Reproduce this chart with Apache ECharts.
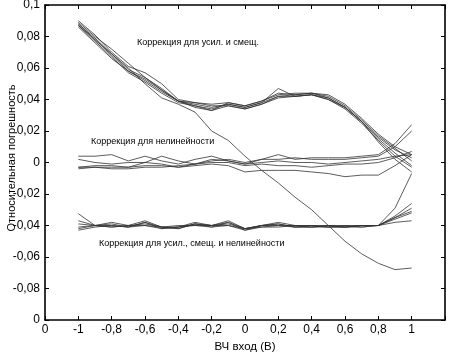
<!DOCTYPE html>
<html>
<head>
<meta charset="utf-8">
<script src="https://cdn.jsdelivr.net/npm/echarts@6/dist/echarts.min.js"></script>
<style>
  html, body { margin: 0; padding: 0; background: #fff; }
  #content { width: 449px; height: 354px; }
</style>
</head>
<body>
<div id="content"></div>
<script>
// входное напряжение, шаг 0,1 В
var xs = [-1, -0.9, -0.8, -0.7, -0.6, -0.5, -0.4, -0.3, -0.2, -0.1, 0,
          0.1, 0.2, 0.3, 0.4, 0.5, 0.6, 0.7, 0.8, 0.9, 1];

// коррекция для усиления и смещения
var gain1 = [0.090, 0.081, 0.070, 0.061, 0.057, 0.050, 0.040, 0.038, 0.037, 0.038, 0.036, 0.039, 0.044, 0.043, 0.044, 0.041, 0.035, 0.026, 0.016, 0.008, 0.003];
var gain2 = [0.089, 0.080, 0.072, 0.063, 0.054, 0.047, 0.039, 0.037, 0.035, 0.037, 0.035, 0.038, 0.042, 0.043, 0.044, 0.042, 0.036, 0.027, 0.017, 0.009, 0.001];
var gain3 = [0.088, 0.078, 0.068, 0.058, 0.052, 0.045, 0.039, 0.038, 0.036, 0.036, 0.034, 0.037, 0.041, 0.042, 0.043, 0.040, 0.034, 0.025, 0.014, 0.004, -0.003];
var gain4 = [0.087, 0.077, 0.067, 0.057, 0.051, 0.044, 0.038, 0.036, 0.034, 0.037, 0.035, 0.038, 0.047, 0.042, 0.043, 0.041, 0.035, 0.026, 0.015, 0.006, -0.002];
var gain5 = [0.086, 0.076, 0.066, 0.058, 0.053, 0.046, 0.039, 0.035, 0.033, 0.038, 0.036, 0.039, 0.043, 0.044, 0.044, 0.043, 0.037, 0.028, 0.018, 0.010, 0.005];
var gain6 = [0.087, 0.078, 0.069, 0.059, 0.054, 0.046, 0.039, 0.036, 0.033, 0.036, 0.034, 0.037, 0.042, 0.042, 0.043, 0.040, 0.035, 0.026, 0.013, 0.002, -0.006];
var gain7 = [0.088, 0.079, 0.069, 0.060, 0.050, 0.041, 0.037, 0.032, 0.020, 0.014, 0.004, -0.005, -0.013, -0.022, -0.030, -0.040, -0.050, -0.058, -0.064, -0.068, -0.067];

// коррекция для нелинейности
var lin1 = [0.004, 0.004, 0.005, 0.001, 0.004, 0.001, -0.001, 0.002, 0.004, 0.001, -0.001, 0.002, 0.005, 0.002, 0.003, 0.003, 0.003, 0.004, 0.005, 0.012, 0.024];
var lin2 = [0.002, 0.000, -0.001, 0.000, 0.000, 0.004, 0.001, -0.001, 0.001, 0.002, 0.000, 0.002, 0.002, 0.003, 0.002, 0.002, 0.002, 0.003, 0.004, 0.010, 0.020];
var lin3 = [-0.003, -0.002, -0.002, -0.003, 0.000, -0.001, -0.003, -0.001, 0.002, 0.001, -0.001, 0.000, 0.001, 0.000, 0.000, -0.001, 0.000, 0.001, 0.002, 0.004, 0.005];
var lin4 = [-0.004, -0.003, -0.004, -0.004, -0.003, -0.003, -0.002, -0.001, 0.000, 0.000, -0.002, -0.001, -0.002, -0.002, -0.003, -0.002, -0.001, -0.001, 0.000, 0.003, 0.007];
var lin5 = [-0.003, -0.003, -0.003, -0.003, -0.002, -0.002, -0.003, -0.002, -0.001, -0.002, -0.006, -0.005, -0.005, -0.005, -0.006, -0.007, -0.009, -0.008, -0.008, -0.002, 0.005];

// коррекция для усиления, смещения и нелинейности
var all1 = [-0.0325, -0.040, -0.038, -0.040, -0.037, -0.041, -0.041, -0.038, -0.040, -0.037, -0.042, -0.040, -0.038, -0.040, -0.040, -0.040, -0.041, -0.040, -0.040, -0.034, -0.026];
var all2 = [-0.037, -0.040, -0.039, -0.041, -0.038, -0.042, -0.041, -0.039, -0.041, -0.038, -0.043, -0.040, -0.039, -0.041, -0.040, -0.041, -0.041, -0.041, -0.040, -0.035, -0.029];
var all3 = [-0.041, -0.040, -0.041, -0.040, -0.039, -0.041, -0.042, -0.039, -0.040, -0.039, -0.042, -0.041, -0.040, -0.041, -0.041, -0.040, -0.040, -0.041, -0.040, -0.036, -0.032];
var all4 = [-0.043, -0.041, -0.040, -0.041, -0.040, -0.042, -0.041, -0.040, -0.041, -0.040, -0.042, -0.040, -0.040, -0.040, -0.041, -0.041, -0.040, -0.040, -0.040, -0.038, -0.037];
var all5 = [-0.042, -0.040, -0.041, -0.040, -0.040, -0.041, -0.040, -0.040, -0.040, -0.040, -0.043, -0.041, -0.041, -0.040, -0.040, -0.041, -0.041, -0.040, -0.040, -0.029, -0.007];
var all6 = [-0.039, -0.040, -0.040, -0.041, -0.038, -0.041, -0.042, -0.039, -0.040, -0.038, -0.042, -0.040, -0.039, -0.041, -0.041, -0.040, -0.041, -0.040, -0.040, -0.035, -0.031];

var curves = [gain1, gain2, gain3, gain4, gain5, gain6, gain7,
              lin1, lin2, lin3, lin4, lin5,
              all1, all2, all3, all4, all5, all6];

var font = '"Liberation Sans", Arial, sans-serif';

function comma(v) {
    var s = (+v.toFixed(2)).toString();
    return s.replace('.', ',');
}

function xLabel(v) {
    if (Math.abs(v + 1.2) < 1e-6) return '0';
    if (Math.abs(v - 1.2) < 1e-6) return '';
    return comma(v);
}

function yLabel(v) {
    if (Math.abs(v + 0.1) < 1e-6) return '0';
    return comma(v);
}

var series = curves.map(function (c) {
    return {
        type: 'line',
        xAxisIndex: 0,
        yAxisIndex: 0,
        symbol: 'none',
        silent: true,
        lineStyle: { color: '#333', width: 0.8 },
        data: xs.map(function (x, i) { return [x, c[i]]; })
    };
});

var axisBase = {
    type: 'value',
    axisLine: { show: true, onZero: false, lineStyle: { color: '#000', width: 1.6 } },
    axisTick: { show: true, inside: true, length: 4, lineStyle: { color: '#000', width: 1 } },
    splitLine: { show: false }
};

option = {
    backgroundColor: '#fff',
    animation: false,
    grid: { left: 45, right: 4, top: 5, bottom: 34, outerBoundsMode: 'none', containLabel: false },
    xAxis: [
        Object.assign({}, axisBase, {
            position: 'bottom',
            min: -1.2, max: 1.2, interval: 0.2,
            name: 'ВЧ вход (В)',
            nameLocation: 'middle',
            nameGap: 19,
            nameTextStyle: { fontFamily: font, fontSize: 11.5, color: '#000' },
            axisLabel: { formatter: xLabel, fontFamily: font, fontSize: 12, color: '#000', margin: 4 }
        }),
        Object.assign({}, axisBase, {
            position: 'top',
            min: -1.2, max: 1.2, interval: 0.2,
            axisLabel: { show: false }
        })
    ],
    yAxis: [
        Object.assign({}, axisBase, {
            position: 'left',
            min: -0.1, max: 0.1, interval: 0.02,
            axisLabel: { formatter: yLabel, fontFamily: font, fontSize: 12, color: '#000', margin: 5 }
        }),
        Object.assign({}, axisBase, {
            position: 'right',
            min: -0.1, max: 0.1, interval: 0.02,
            axisLabel: { show: false }
        })
    ],
    graphic: [
        { type: 'text', x: 12, y: 158, rotation: Math.PI / 2,
          style: { text: 'Относительная погрешность', font: '11px ' + font, fill: '#000', align: 'center', verticalAlign: 'middle' } },
        { type: 'text', left: 137, top: 38, style: { text: 'Коррекция для усил. и смещ.', font: '9px ' + font, fill: '#000' } },
        { type: 'text', left: 91, top: 137, style: { text: 'Коррекция для нелинейности', font: '9px ' + font, fill: '#000' } },
        { type: 'text', left: 99, top: 239, style: { text: 'Коррекция для усил., смещ. и нелинейности', font: '9px ' + font, fill: '#000' } }
    ],
    series: series
};

var myChart = echarts.init(document.getElementById('content'));
myChart.setOption(option);
</script>
</body>
</html>
